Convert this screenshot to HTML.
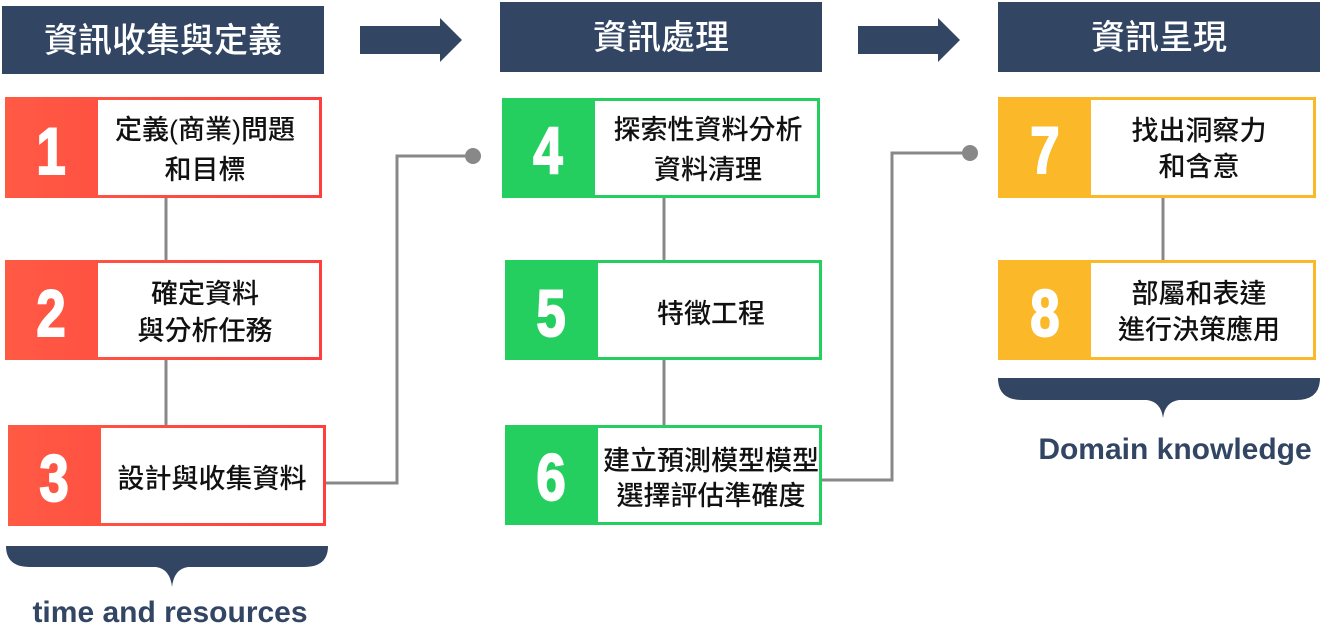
<!DOCTYPE html>
<html><head><meta charset="utf-8"><style>
html,body{margin:0;padding:0;background:#fff;}
svg{display:block;}
.h{font-family:"Liberation Sans","Noto Sans CJK TC",sans-serif;font-size:34px;fill:#fff;font-weight:500;}
.t{font-family:"Liberation Sans","Noto Sans CJK TC",sans-serif;font-size:27px;fill:#111;font-weight:500;}
.n{font-family:"Liberation Sans",sans-serif;font-size:66px;font-weight:bold;fill:#fff;stroke:#fff;stroke-width:2;}
.b{font-family:"Liberation Sans",sans-serif;font-size:30px;font-weight:bold;fill:#324664;}
</style></head><body>
<svg width="1326" height="634" viewBox="0 0 1326 634">
<defs>
<linearGradient id="rg" x1="0" x2="1"><stop offset="0" stop-color="#ff5a44"/><stop offset="1" stop-color="#ff3e3e"/></linearGradient>
</defs>
<rect x="2" y="6" width="322" height="68" fill="#324664"/>
<text class="h" x="163" y="52" text-anchor="middle">資訊收集與定義</text>
<rect x="500" y="2" width="322" height="70" fill="#324664"/>
<text class="h" x="661" y="49" text-anchor="middle">資訊處理</text>
<rect x="998" y="2" width="322" height="70" fill="#324664"/>
<text class="h" x="1159" y="49" text-anchor="middle">資訊呈現</text>
<polygon points="360,26 440,26 440,18 462,40 440,62 440,54 360,54" fill="#324664"/>
<polygon points="858,26 938,26 938,18 960,40 938,62 938,54 858,54" fill="#324664"/>
<g stroke="#888" stroke-width="3" fill="none">
<line x1="166" y1="198" x2="166" y2="260"/>
<line x1="166" y1="360" x2="166" y2="425"/>
<line x1="664" y1="198" x2="664" y2="260"/>
<line x1="664" y1="360" x2="664" y2="425"/>
<line x1="1163" y1="198" x2="1163" y2="260"/>
<polyline points="326,483 397,483 397,156 473,156"/>
<polyline points="822,480 892,480 892,153 970,153"/>
</g>
<circle cx="473" cy="156" r="8" fill="#888"/>
<circle cx="970" cy="153" r="8" fill="#888"/>
<g>
<rect x="5" y="97" width="317" height="101" fill="url(#rg)"/><rect x="98" y="100" width="221" height="95" fill="#fff"/>
<text class="n" x="51" y="174" text-anchor="middle" transform="translate(51 0) scale(0.8 1) translate(-51 0)">1</text>
<text class="t" x="205" y="139" text-anchor="middle">定義(商業)問題</text><text class="t" x="205" y="179" text-anchor="middle">和目標</text>

<rect x="5" y="260" width="317" height="100" fill="url(#rg)"/><rect x="98" y="263" width="221" height="94" fill="#fff"/>
<text class="n" x="51" y="336" text-anchor="middle" transform="translate(51 0) scale(0.8 1) translate(-51 0)">2</text>
<text class="t" x="205" y="303" text-anchor="middle">確定資料</text><text class="t" x="205" y="340" text-anchor="middle">與分析任務</text>

<rect x="8" y="425" width="318" height="101" fill="url(#rg)"/><rect x="101" y="428" width="222" height="95" fill="#fff"/>
<text class="n" x="54" y="501" text-anchor="middle" transform="translate(54 0) scale(0.8 1) translate(-54 0)">3</text>
<text class="t" x="212" y="488" text-anchor="middle">設計與收集資料</text>

<rect x="502" y="98" width="318" height="100" fill="#25cf5f"/><rect x="595" y="101" width="222" height="94" fill="#fff"/>
<text class="n" x="548" y="173" text-anchor="middle" transform="translate(548 0) scale(0.8 1) translate(-548 0)">4</text>
<text class="t" x="708" y="139" text-anchor="middle">探索性資料分析</text><text class="t" x="708" y="179" text-anchor="middle">資料清理</text>

<rect x="505" y="260" width="317" height="100" fill="#25cf5f"/><rect x="598" y="263" width="221" height="94" fill="#fff"/>
<text class="n" x="551" y="336" text-anchor="middle" transform="translate(551 0) scale(0.8 1) translate(-551 0)">5</text>
<text class="t" x="711" y="323" text-anchor="middle">特徵工程</text>

<rect x="505" y="425" width="317" height="100" fill="#25cf5f"/><rect x="598" y="428" width="221" height="94" fill="#fff"/>
<text class="n" x="551" y="500" text-anchor="middle" transform="translate(551 0) scale(0.8 1) translate(-551 0)">6</text>
<text class="t" x="711" y="470" text-anchor="middle">建立預測模型模型</text><text class="t" x="711" y="505" text-anchor="middle">選擇評估準確度</text>

<rect x="998" y="97" width="318" height="101" fill="#fbb829"/><rect x="1091" y="100" width="222" height="95" fill="#fff"/>
<text class="n" x="1045" y="173" text-anchor="middle" transform="translate(1045 0) scale(0.8 1) translate(-1045 0)">7</text>
<text class="t" x="1199" y="140" text-anchor="middle">找出洞察力</text><text class="t" x="1199" y="176" text-anchor="middle">和含意</text>

<rect x="998" y="260" width="318" height="100" fill="#fbb829"/><rect x="1091" y="263" width="222" height="94" fill="#fff"/>
<text class="n" x="1045" y="336" text-anchor="middle" transform="translate(1045 0) scale(0.8 1) translate(-1045 0)">8</text>
<text class="t" x="1199" y="303" text-anchor="middle">部屬和表達</text><text class="t" x="1199" y="339" text-anchor="middle">進行決策應用</text>
</g>
<path d="M6,546 H328 Q328,567 304,567 H188 Q174,569 172,587 Q170,569 156,567 H30 Q6,567 6,546 Z" fill="#324664"/>
<text class="b" x="170" y="622" text-anchor="middle">time and resources</text>
<path d="M998,378 H1320 Q1320,400 1296,400 H1179 Q1165,402 1163,418 Q1161,402 1147,400 H1022 Q998,400 998,378 Z" fill="#324664"/>
<text class="b" x="1175" y="459" text-anchor="middle">Domain knowledge</text>
</svg>
</body></html>
